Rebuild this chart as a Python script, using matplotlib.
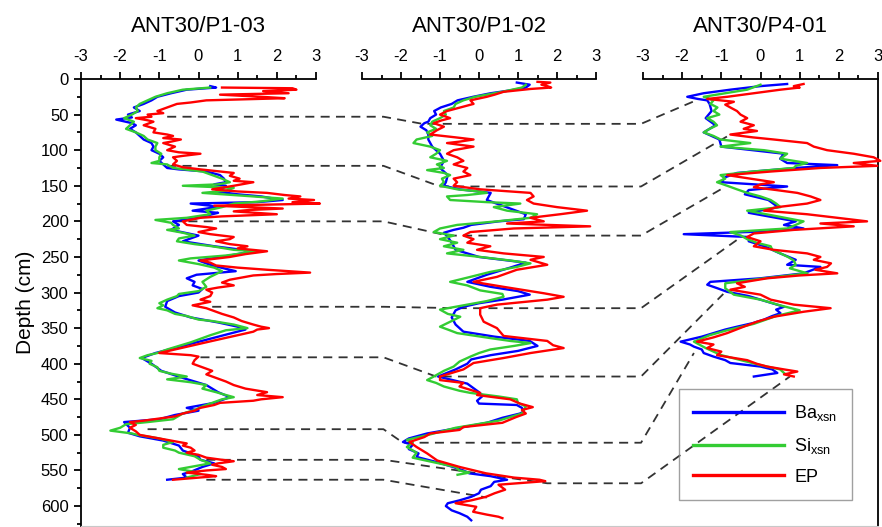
import matplotlib
matplotlib.use("Agg")
import matplotlib.pyplot as plt
from matplotlib.lines import Line2D
from matplotlib.ticker import MultipleLocator

plt.rcParams['font.family'] = 'Liberation Sans'
plt.rcParams['mathtext.fontset'] = 'custom'
plt.rcParams['mathtext.rm'] = 'Liberation Sans'
plt.rcParams['axes.unicode_minus'] = False

cores = ["ANT30/P1-03", "ANT30/P1-02", "ANT30/P4-01"]
series_names = ["Ba$_\\mathrm{xsn}$", "Si$_\\mathrm{xsn}$", "EP"]
series_colors = ["#0000ff", "#33cc33", "#ff0000"]

# (depth in cm, value)
p103_ba = [(10,0.3),(12,0.45),(15,-0.3),(20,-0.7),(25,-1.05),(30,-1.2),(35,-1.4),(40,-1.65),(45,-1.5),(50,-1.8),
           (54,-1.7),(57,-2.1),(62,-1.7),(65,-1.6),(70,-1.75),(75,-1.6),(80,-1.5),(85,-1.4),(90,-1.2),(95,-1.15),
           (100,-1.2),(105,-1.0),(110,-0.9),(115,-1.0),(120,-0.9),(125,-0.8),(127,-0.5),(130,0.2),(135,0.55),(140,0.65),
           (145,0.7),(148,0.4),(150,0.7),(155,0.6),(158,0.45),(162,1.0),(165,1.6),(170,2.15),(173,1.5),(175,-0.2),
           (178,0.3),(180,0.45),(185,-0.15),(188,0.5),(190,0.35),(195,0.0),(200,-0.65),(205,-0.5),(212,-0.7),(220,0.0),
           (228,-0.4),(235,0.4),(242,1.4),(248,0.8),(255,0.0),(262,0.35),(270,0.95),(275,-0.05),(280,-0.3),(285,-0.1),
           (290,-0.15),(295,0.1),(300,0.0),(305,-0.5),(312,-0.8),(320,-0.85),(328,-0.6),(335,-0.2),(342,0.5),(348,1.0),
           (352,1.2),(380,-0.75),(385,-1.1),(392,-1.45),(400,-1.2),(410,-0.95),(420,-0.4),(430,0.2),(440,0.5),(447,0.8),
           (455,0.4),(462,-0.3),(466,0.0),(472,-0.6),(478,-1.0),(482,-1.9),(490,-1.75),(497,-1.8),(502,-1.5),(508,-0.9),
           (515,-0.5),(522,-0.4),(530,0.0),(535,0.05),(540,0.4),(545,0.1),(552,-0.2),(555,-0.4),(560,-0.3),(563,-0.8)]
p103_si = [(12,0.3),(15,-0.4),(20,-0.8),(25,-1.1),(30,-1.3),(35,-1.5),(40,-1.6),(45,-1.55),(50,-1.7),(55,-1.9),
           (60,-1.65),(65,-1.75),(70,-1.85),(75,-1.6),(80,-1.4),(85,-1.3),(90,-1.05),(95,-1.1),(100,-1.1),(105,-0.95),
           (110,-1.0),(115,-1.0),(118,-1.2),(120,-0.8),(125,-0.65),(130,0.1),(135,0.35),(140,0.6),(145,0.8),(148,0.5),
           (150,-0.4),(153,0.9),(157,0.7),(160,0.1),(165,1.4),(168,2.15),(172,1.6),(175,0.9),(180,0.6),(185,0.2),
           (190,0.3),(195,-0.3),(198,-1.1),(202,-0.7),(205,-0.65),(210,-0.5),(212,-0.8),(216,-0.4),(220,-0.1),(224,-0.5),
           (228,-0.55),(232,-0.1),(235,0.35),(240,0.9),(242,1.5),(248,0.7),(252,-0.2),(255,-0.5),(260,0.0),(265,0.4),
           (270,0.6),(278,0.3),(285,0.1),(292,0.2),(298,0.0),(302,-0.5),(305,-0.55),(310,-0.8),(315,-1.0),(318,-0.9),
           (322,-1.05),(325,-0.8),(330,-0.6),(333,-0.3),(338,0.0),(340,0.35),(345,0.9),(350,1.25),(353,0.7),(360,0.3),
           (370,-0.2),(380,-0.8),(385,-1.05),(388,-1.3),(392,-1.5),(396,-1.2),(400,-1.25),(405,-1.05),(410,-1.0),(414,-0.7),
           (418,-0.3),(422,-0.8),(426,-0.2),(430,0.2),(435,0.1),(440,0.45),(444,0.7),(447,0.9),(450,0.6),(455,0.35),
           (460,0.1),(465,-0.1),(470,-0.4),(478,-0.65),(482,-1.3),(485,-1.85),(490,-2.0),(494,-2.25),(498,-1.7),(500,-1.55),
           (505,-1.0),(510,-0.65),(514,-0.9),(518,-0.9),(522,-0.6),(525,-0.5),(530,-0.1),(535,0.05),(540,0.3),(545,-0.2),
           (548,-0.5),(552,-0.1),(555,0.05),(560,-0.3)]
p103_ep = [(12,0.6),(13,2.4),(15,2.5),(17,1.65),(20,2.3),(22,0.55),(25,1.6),(27,2.2),(30,0.2),(33,-0.2),
           (35,-0.55),(38,-0.7),(40,-0.8),(45,-1.05),(48,-0.9),(50,-1.3),(53,-1.2),(55,-1.6),(58,-1.3),(60,-1.15),
           (65,-1.4),(70,-1.1),(75,-1.15),(78,-0.8),(80,-0.65),(83,-0.9),(85,-0.45),(88,-0.7),(90,-0.9),(95,-0.6),
           (100,-0.8),(103,-0.5),(105,0.05),(108,-0.4),(110,-0.65),(115,-0.55),(120,-0.65),(124,-0.4),(127,0.05),(132,0.9),
           (136,0.8),(140,1.05),(143,0.9),(145,1.4),(148,1.1),(150,0.9),(155,0.35),(158,1.0),(160,1.75),(163,2.2),
           (165,2.6),(168,2.3),(170,2.95),(173,2.4),(175,3.1),(178,0.4),(182,2.15),(184,1.3),(186,0.9),(190,2.0),
           (193,0.6),(195,0.05),(200,-0.4),(205,-0.3),(208,0.2),(210,0.45),(215,0.0),(218,0.3),(222,0.9),(225,0.8),
           (228,0.45),(232,0.8),(235,1.25),(238,1.0),(242,1.75),(246,1.2),(250,0.8),(255,0.05),(258,0.3),(262,0.45),
           (265,1.0),(268,1.75),(270,2.3),(272,2.85),(274,2.0),(276,1.4),(279,1.1),(282,0.8),(286,0.6),(290,0.9),
           (293,0.5),(296,0.2),(300,0.35),(305,0.3),(310,0.05),(313,0.3),(318,-0.15),(322,0.2),(325,0.35),(330,0.6),
           (335,0.9),(340,1.1),(345,1.4),(348,1.6),(350,1.8),(352,1.5),(355,1.4),(368,0.35),(385,-1.0),(388,-0.2),
           (390,0.0),(395,-0.1),(400,-0.15),(405,0.1),(410,0.35),(415,0.2),(420,0.45),(425,0.7),(430,0.9),(435,1.2),
           (440,1.75),(444,1.5),(447,2.15),(450,1.6),(452,1.4),(455,0.55),(458,0.4),(462,0.05),(466,-0.1),(470,-0.4),
           (474,-0.6),(477,-1.0),(480,-1.4),(482,-1.75),(486,-1.6),(490,-1.75),(495,-1.6),(500,-1.5),(504,-1.1),(507,-0.8),
           (510,-0.5),(512,-0.3),(515,-0.4),(518,-0.2),(522,-0.1),(525,-0.3),(528,0.0),(532,0.2),(535,0.6),(537,0.9),
           (540,0.5),(542,0.35),(545,0.6),(548,0.7),(550,0.2),(553,-0.3),(556,0.2),(558,0.45),(561,-0.2),(563,-0.65)]

p102_ba = [(5,0.97),(8,1.3),(12,1.2),(16,0.8),(20,0.3),(25,-0.15),(30,-0.55),(35,-0.7),(40,-0.98),(45,-1.15),
           (50,-1.1),(55,-1.25),(60,-1.3),(62,-1.4),(67,-1.5),(72,-1.35),(78,-1.3),(85,-1.3),(95,-1.2),(105,-1.0),
           (115,-0.9),(125,-1.0),(135,-0.8),(145,-0.85),(150,-0.9),(155,-0.5),(160,0.3),(170,0.2),(180,0.7),(190,1.2),
           (197,1.15),(200,0.5),(205,-0.2),(209,-0.4),(212,-0.65),(216,-0.9),(222,-0.8),(230,-0.7),(240,-0.6),(250,0.0),
           (258,1.2),(265,0.8),(275,0.2),(285,-0.3),(292,0.3),(298,1.0),(303,1.3),(310,0.6),(315,0.0),(320,-0.4),
           (325,-0.6),(335,-0.7),(345,-0.6),(355,-0.4),(362,0.4),(368,1.3),(375,1.5),(382,1.0),(388,0.3),(394,-0.2),
           (400,-0.3),(408,-0.6),(418,-1.05),(428,-0.3),(440,0.0),(445,0.1),(452,-0.05),(456,0.0),(458,0.97),(462,1.1),
           (467,1.15),(470,1.05),(476,0.6),(483,0.2),(490,-0.5),(498,-1.33),(505,-1.8),(510,-1.95),(514,-1.7),(520,-1.8),
           (526,-1.55),(531,-1.6),(538,-1.1),(545,-0.67),(550,-0.4),(554,-0.25),(558,0.3),(563,0.72),(566,0.39),(572,0.3),
           (577,0.05),(582,0.0),(587,-0.2),(592,-0.5),(596,-0.8),(600,-0.85),(606,-0.7),(610,-0.5),(615,-0.3),(620,-0.2)]
p102_si = [(8,1.2),(12,1.1),(18,0.6),(25,-0.1),(30,-0.4),(35,-0.6),(40,-0.65),(45,-0.9),(50,-0.85),(55,-1.0),
           (60,-1.2),(65,-1.25),(70,-1.1),(75,-1.33),(80,-1.2),(85,-1.6),(90,-1.68),(95,-1.25),(100,-1.0),(105,-1.1),
           (110,-1.25),(115,-0.82),(120,-1.08),(125,-0.9),(128,-1.33),(132,-0.9),(135,-0.74),(140,-0.95),(145,-0.9),(150,-1.0),
           (155,-0.56),(158,0.0),(160,0.2),(163,-0.3),(165,-0.82),(170,-0.74),(173,0.2),(175,1.06),(180,0.38),(185,0.72),
           (190,1.49),(195,1.32),(200,0.46),(205,-0.56),(210,-1.0),(215,-1.16),(220,-0.65),(225,-1.0),(230,-0.56),(235,-0.9),
           (240,-0.4),(245,-0.82),(250,0.03),(255,0.8),(259,1.32),(264,0.97),(271,0.29),(278,-0.22),(285,-0.74),(290,-0.3),
           (297,0.03),(302,0.6),(306,0.63),(312,0.2),(318,-0.4),(324,-1.0),(330,-0.8),(334,-0.48),(340,-0.7),(348,-1.0),
           (352,-0.8),(357,-0.56),(364,0.29),(368,0.8),(371,1.32),(375,0.9),(380,0.29),(385,0.0),(390,-0.22),(397,-0.5),
           (404,-0.65),(410,-0.9),(418,-1.16),(423,-1.33),(427,-1.1),(432,-0.9),(438,-0.5),(441,-0.22),(446,0.5),(450,0.97),
           (455,1.0),(460,1.2),(470,1.1),(480,0.5),(490,-0.6),(500,-1.3),(507,-1.85),(511,-1.7),(517,-1.85),(525,-1.6),
           (532,-1.7),(538,-1.2),(545,-0.6),(550,-0.5),(553,-0.25),(556,-0.55)]
p102_ep = [(4,1.5),(5,1.83),(8,1.6),(10,1.75),(12,1.85),(14,1.32),(18,0.63),(22,0.4),(25,0.2),(30,-0.22),
           (35,-0.14),(40,-0.48),(45,-0.82),(50,-1.0),(55,-0.74),(58,-0.95),(62,-1.16),(67,-0.9),(72,-1.08),(78,-1.25),
           (82,-0.6),(85,-0.14),(88,-0.5),(90,-0.82),(95,-0.14),(100,-0.65),(105,-0.82),(110,-0.56),(115,-0.4),(120,-0.65),
           (125,-0.3),(130,-0.4),(135,-0.22),(140,-0.65),(145,-0.56),(150,-0.65),(155,0.03),(160,1.32),(165,1.4),(170,1.23),
           (175,1.4),(180,2.0),(185,2.77),(190,2.08),(195,1.32),(200,1.66),(203,0.72),(207,2.85),(210,0.89),(215,-0.22),
           (220,-0.4),(225,-0.14),(230,-0.3),(235,0.29),(240,-0.05),(245,0.63),(250,1.66),(254,1.32),(261,1.75),(268,0.97),
           (278,0.46),(285,-0.14),(292,0.63),(301,1.66),(306,2.17),(310,1.75),(317,0.46),(322,0.03),(331,0.03),(341,0.12),
           (350,0.46),(361,0.63),(368,1.75),(374,1.9),(378,2.17),(385,1.32),(392,0.63),(399,-0.14),(408,-0.4),(418,-1.0),
           (423,-1.0),(427,-0.4),(432,-0.5),(441,0.03),(444,-0.05),(450,0.8),(456,1.05),(461,1.38),(465,1.1),(470,1.2),
           (475,0.95),(483,0.6),(489,-0.4),(493,-0.5),(498,-1.25),(503,-1.4),(510,-1.78),(517,-1.6),(526,-1.33),(531,-1.2),
           (536,-1.07),(545,-0.5),(554,0.18),(560,0.9),(563,1.55),(565,1.7),(570,0.5),(577,0.67),(582,0.4),(587,0.18),
           (592,-0.2),(596,-0.6),(601,-0.07),(608,-0.15),(612,0.2),(615,0.5),(617,0.6)]

p401_ba = [(7,0.68),(10,0.0),(15,-0.77),(20,-1.45),(25,-1.87),(28,-1.6),(30,-1.36),(35,-1.3),(45,-1.25),(55,-1.4),
           (65,-1.15),(75,-1.45),(85,-1.05),(95,-1.0),(105,0.6),(112,0.5),(118,0.68),(121,1.96),(125,0.9),(132,-0.6),
           (138,-0.9),(145,-1.0),(151,0.68),(156,-0.3),(162,-0.4),(170,0.2),(180,0.45),(188,-0.3),(195,0.4),(200,0.9),
           (205,0.6),(210,1.1),(214,0.2),(218,-1.96),(222,-0.3),(228,-0.3),(235,0.1),(245,0.5),(254,0.9),(261,0.68),
           (264,1.53),(273,1.1),(280,0.0),(285,-1.28),(289,-1.36),(294,-1.1),(299,-0.85),(305,-0.3),(310,0.0),(315,0.3),
           (320,0.6),(324,0.4),(329,0.51),(333,0.3),(338,0.09),(343,-0.2),(348,-0.6),(352,-0.9),(357,-1.2),(362,-1.5),
           (369,-2.04),(373,-1.8),(376,-1.7),(380,-1.5),(385,-1.45),(390,-1.2),(395,-0.9),(399,-0.77),(404,0.0),(408,0.3),
           (413,0.43),(418,-0.17)]
p401_si = [(8,0.0),(15,-0.34),(20,-0.9),(25,-1.45),(30,-1.2),(35,-1.28),(40,-1.1),(45,-1.2),(50,-1.05),(55,-1.36),
           (60,-1.2),(65,-1.11),(70,-1.3),(75,-1.45),(80,-1.2),(85,-1.02),(90,-0.26),(95,-1.02),(100,0.09),(105,0.68),
           (112,0.51),(118,1.19),(122,0.9),(125,0.85),(130,-0.2),(135,-1.02),(140,-0.9),(145,-1.11),(150,-0.85),(155,-0.6),
           (160,-0.34),(165,0.0),(170,0.26),(175,0.4),(180,0.51),(185,-0.34),(192,0.34),(200,1.1),(205,0.9),(210,0.68),
           (215,-0.77),(220,-0.5),(225,-0.34),(230,-0.1),(235,0.26),(240,0.3),(245,0.51),(250,0.7),(255,0.85),(261,0.9),
           (266,0.75),(273,1.2),(280,0.1),(287,-0.9),(294,-0.9),(303,-0.68),(310,0.0),(318,0.5),(325,1.0),(333,0.4),
           (344,-0.17),(353,-0.85),(360,-1.3),(369,-1.7),(378,-1.4),(388,-1.0),(395,-0.5),(402,0.0),(408,0.5),(413,0.6)]
p401_ep = [(7,1.1),(10,0.85),(12,1.0),(15,0.51),(20,-0.17),(25,-0.85),(28,-1.36),(32,-0.68),(36,-0.9),(40,-0.77),
           (45,-0.6),(50,-0.51),(55,-0.34),(60,-0.51),(65,-0.17),(70,-0.43),(73,-0.09),(78,-0.77),(82,-0.2),(85,0.34),
           (90,1.19),(95,1.36),(100,1.7),(105,2.38),(110,2.89),(115,3.06),(118,2.38),(122,2.98),(125,1.53),(130,0.26),
           (135,-0.85),(140,-0.26),(145,0.34),(148,0.0),(152,-0.17),(156,0.4),(160,0.94),(165,1.28),(170,1.53),(175,1.19),
           (180,0.43),(185,0.09),(190,1.19),(195,1.96),(200,2.72),(203,1.53),(207,2.38),(212,0.85),(217,-0.17),(222,-0.34),
           (228,0.0),(235,-0.17),(240,0.34),(245,1.19),(250,1.53),(254,1.36),(259,1.8),(264,1.7),(268,1.4),(273,1.96),
           (276,1.0),(280,0.17),(287,-0.6),(292,-0.4),(296,-0.77),(303,0.0),(310,0.26),(317,0.85),(322,1.79),(327,1.1),
           (334,0.34),(341,-0.09),(348,-0.43),(357,-0.85),(363,-1.2),(369,-1.62),(373,-1.2),(378,-1.36),(383,-1.0),(388,-1.11),
           (395,-0.34),(400,-0.1),(404,0.17),(408,0.6),(411,0.94),(415,0.6),(418,0.85)]

core_series = [[p103_ba, p103_si, p103_ep],
               [p102_ba, p102_si, p102_ep],
               [p401_ba, p401_si, p401_ep]]

# correlation tie points: (value, depth) in each core
tie_p103 = [(-0.8,53),(-0.8,122),(-0.65,200),(0.35,320),(0.05,391),(-1.3,492),(0.2,535),(0.2,563)]
tie_p102 = [(-1.45,63),(-1.0,151),(-0.8,220),(-0.55,322),(-1.1,418),(-1.95,511),(1.75,568),(0.2,588)]
tie_p401 = [(-1.6,29),(-0.8,79),(-0.95,153),(-0.6,226),(-0.95,302),(-1.7,385),(0.75,418)]

W, H = 882, 527
fig = plt.figure(figsize=(W / 100, H / 100), dpi=100)

def rect(x0, x1, y0, y1):
    return [x0 / W, 1 - y1 / H, (x1 - x0) / W, (y1 - y0) / H]

y_max = 628

frame = fig.add_axes(rect(81, 878, 79, 526))
frame.set_xlim(0, 1)
frame.set_ylim(y_max, 0)
frame.set_xticks([])
frame.spines['top'].set_visible(False)
frame.spines['bottom'].set_color('#c8c8c8')
frame.spines['left'].set_linewidth(1.3)
frame.spines['right'].set_linewidth(1.3)
frame.yaxis.set_major_locator(MultipleLocator(50))
frame.yaxis.set_minor_locator(MultipleLocator(25))
frame.tick_params(axis='y', which='major', length=5, width=1.3, labelsize=12, pad=4)
frame.tick_params(axis='y', which='minor', length=3, width=1.3)
frame.set_ylabel("Depth (cm)", fontsize=15, labelpad=4)

panel_px = [(81, 316), (362, 596), (643, 878)]
axes = []
for (x0, x1), name, series in zip(panel_px, cores, core_series):
    ax = fig.add_axes(rect(x0, x1, 79, 526))
    ax.patch.set_visible(False)
    for s in ['left', 'right', 'bottom']:
        ax.spines[s].set_visible(False)
    ax.spines['top'].set_linewidth(1.3)
    ax.xaxis.tick_top()
    ax.set_xlim(-3, 3)
    ax.set_ylim(y_max, 0)
    ax.set_yticks([])
    ax.xaxis.set_major_locator(MultipleLocator(1))
    ax.xaxis.set_minor_locator(MultipleLocator(0.5))
    ax.tick_params(axis='x', which='major', length=5, width=1.3, labelsize=12, pad=6)
    ax.tick_params(axis='x', which='minor', length=3, width=1.3)
    ax.set_title(name, fontsize=16, pad=12)
    for pts, color in zip(series, series_colors):
        d, v = zip(*pts)
        ax.plot(v, d, color=color, lw=1.7, clip_on=False)
    axes.append(ax)

# dashed correlation lines, drawn below the profiles
to_fig = fig.transFigure.inverted()

def fig_pt(ax, x, d):
    return to_fig.transform(ax.transData.transform((x, d)))

for i in range(len(tie_p103)):
    xl, dl = tie_p103[i]
    xm, dm = tie_p102[i]
    pts = [fig_pt(axes[0], xl, dl), fig_pt(axes[1], -2.45, dl), fig_pt(axes[1], xm, dm)]
    if i < len(tie_p401):
        xr, dr = tie_p401[i]
        pts += [fig_pt(axes[2], -3.05, dm), fig_pt(axes[2], xr, dr)]
    xs, ys = zip(*pts)
    frame.plot(xs, ys, transform=fig.transFigure, color='#333333', lw=1.3,
               ls=(0, (5, 3.5)), clip_on=False, zorder=1)

handles = [Line2D([], [], color=c, lw=2.4) for c in series_colors]
leg = axes[2].legend(handles, series_names, loc='lower right', bbox_to_anchor=(0.889, 0.058),
                     fontsize=13, handlelength=5.0, labelspacing=0.7, handletextpad=0.6,
                     borderpad=0.8, borderaxespad=0, fancybox=False, edgecolor='#888888', facecolor='none')
leg.get_frame().set_linewidth(1.0)

fig.savefig("out.png", dpi=100)
